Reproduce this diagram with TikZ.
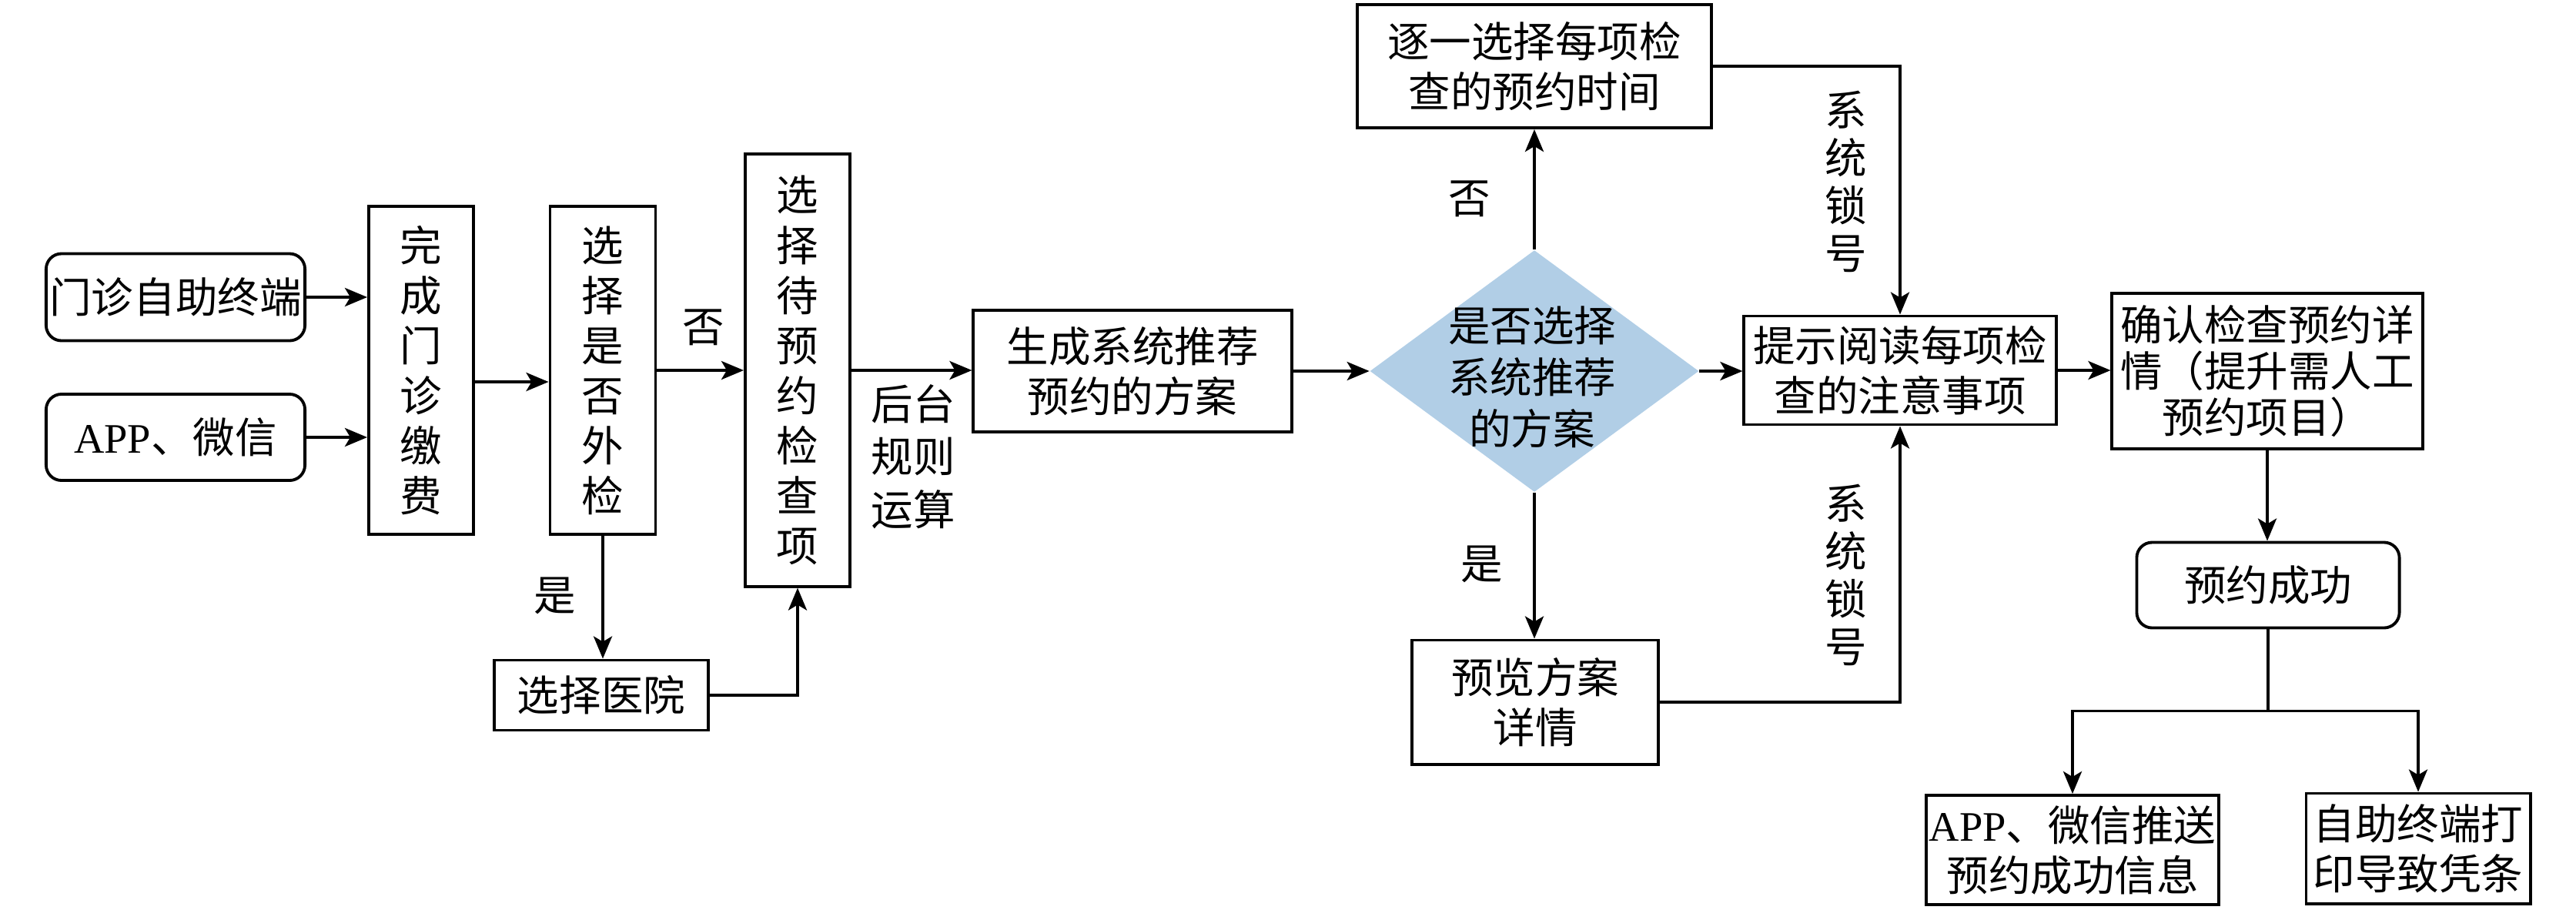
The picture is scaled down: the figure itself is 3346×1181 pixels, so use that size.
\documentclass[tikz,border=0pt]{standalone}
\usepackage{fontspec}
\setmainfont{Noto Sans CJK SC}
\newfontfamily\lat{Liberation Serif}
\usetikzlibrary{arrows.meta,shapes.geometric,calc}
\definecolor{diablue}{HTML}{B1CEE6}
\begin{document}
\begin{tikzpicture}[x=0.01cm,y=-0.01cm,
  every node/.style={font=\fontsize{15.5pt}{18.5pt}\selectfont, inner sep=0pt, align=center},
  box/.style={draw, line width=1.1pt},
  rbox/.style={draw, line width=1.1pt, rounded corners=0.2cm},
  arr/.style={line width=1.1pt, -{Stealth[length=0.29cm, width=0.24cm, inset=0.07cm]}},
  plain/.style={line width=1.1pt},
  lbl/.style={font=\fontsize{15.5pt}{19pt}\selectfont}]
\useasboundingbox (0,0) rectangle (3346,1181);

% nodes
\node[rbox, minimum width=3.36cm, minimum height=1.13cm] (src1) at (228,386) {门诊自助终端};
\node[rbox, minimum width=3.36cm, minimum height=1.12cm] (src2) at (228,568) {{\lat APP}、微信};
\node[box, minimum width=1.36cm, minimum height=4.26cm] (pay) at (547,481) {完\\成\\门\\诊\\缴\\费};
\node[box, minimum width=1.37cm, minimum height=4.26cm] (ext) at (783,481) {选\\择\\是\\否\\外\\检};
\node[box, minimum width=1.36cm, minimum height=5.61cm] (sel) at (1036,481) {选\\择\\待\\预\\约\\检\\查\\项};
\node[box, minimum width=2.77cm, minimum height=0.91cm] (hosp) at (781,903) {选择医院};
\node[box, minimum width=4.13cm, minimum height=1.58cm] (gen) at (1471,482) {生成系统推荐\\预约的方案};
\node[diamond, fill=diablue, minimum width=4.27cm, minimum height=3.14cm] (dia) at (1993,482) {};
\node[lbl] (diatext) at (1990,490) {是否选择\\系统推荐\\的方案};
\node[box, minimum width=4.59cm, minimum height=1.60cm] (each) at (1993,86) {逐一选择每项检\\查的预约时间};
\node[box, minimum width=3.20cm, minimum height=1.61cm] (prev) at (1994,912) {预览方案\\详情};
\node[box, minimum width=4.05cm, minimum height=1.41cm] (tip) at (2468,481) {提示阅读每项检\\查的注意事项};
\node[box, minimum width=4.03cm, minimum height=2.02cm, font=\fontsize{15.5pt}{17pt}\selectfont] (conf) at (2945,482) {确认检查预约详\\情（提升需人工\\预约项目）};
\node[rbox, minimum width=3.41cm, minimum height=1.11cm] (succ) at (2946,760) {预约成功};
\node[box, minimum width=3.80cm, minimum height=1.42cm] (push) at (2692,1104) {{\lat APP}、微信推送\\预约成功信息};
\node[box, minimum width=2.91cm, minimum height=1.43cm] (print) at (3141,1102) {自助终端打\\印导致凭条};

% labels
\node (no1) at (914,425) {否};
\node (yes1) at (721,774) {是};
\node[font=\fontsize{15.5pt}{19.5pt}\selectfont] (calc) at (1186,593) {后台\\规则\\运算};
\node (no2) at (1909,258) {否};
\node (yes2) at (1925,733) {是};
\node[font=\fontsize{15.5pt}{17.6pt}\selectfont] (lock1) at (2398,236) {系\\统\\锁\\号};
\node[font=\fontsize{15.5pt}{17.6pt}\selectfont] (lock2) at (2398,747) {系\\统\\锁\\号};

% connectors
\draw[arr] (src1.east) -- (src1.east -| pay.west);
\draw[arr] (src2.east) -- (src2.east -| pay.west);
\draw[arr] ($(pay.east)+(0,15)$) -- ($(ext.west)+(0,15)$);
\draw[arr] (ext.east) -- (sel.west);
\draw[arr] (ext.south) -- (ext.south |- hosp.north);
\draw[arr] (hosp.east) -| (sel.south);
\draw[arr] (sel.east) -- (sel.east -| gen.west);
\draw[arr] (gen.east) -- (dia.west);
\draw[arr] (dia.north) -- (dia.north |- each.south);
\draw[arr] (dia.south) -- (dia.south |- prev.north);
\draw[arr] (dia.east) -- (dia.east -| tip.west);
\draw[arr] (each.east) -| (tip.north);
\draw[arr] (prev.east) -| (tip.south);
\draw[arr] (tip.east) -- (tip.east -| conf.west);
\draw[arr] (conf.south) -- (conf.south |- succ.north);
\coordinate (br) at ($(succ.south)+(0,106)$);
\draw[plain] (succ.south) -- (br);
\draw[arr] (br) -| (push.north);
\draw[arr] (br) -| (print.north);
\end{tikzpicture}
\end{document}
